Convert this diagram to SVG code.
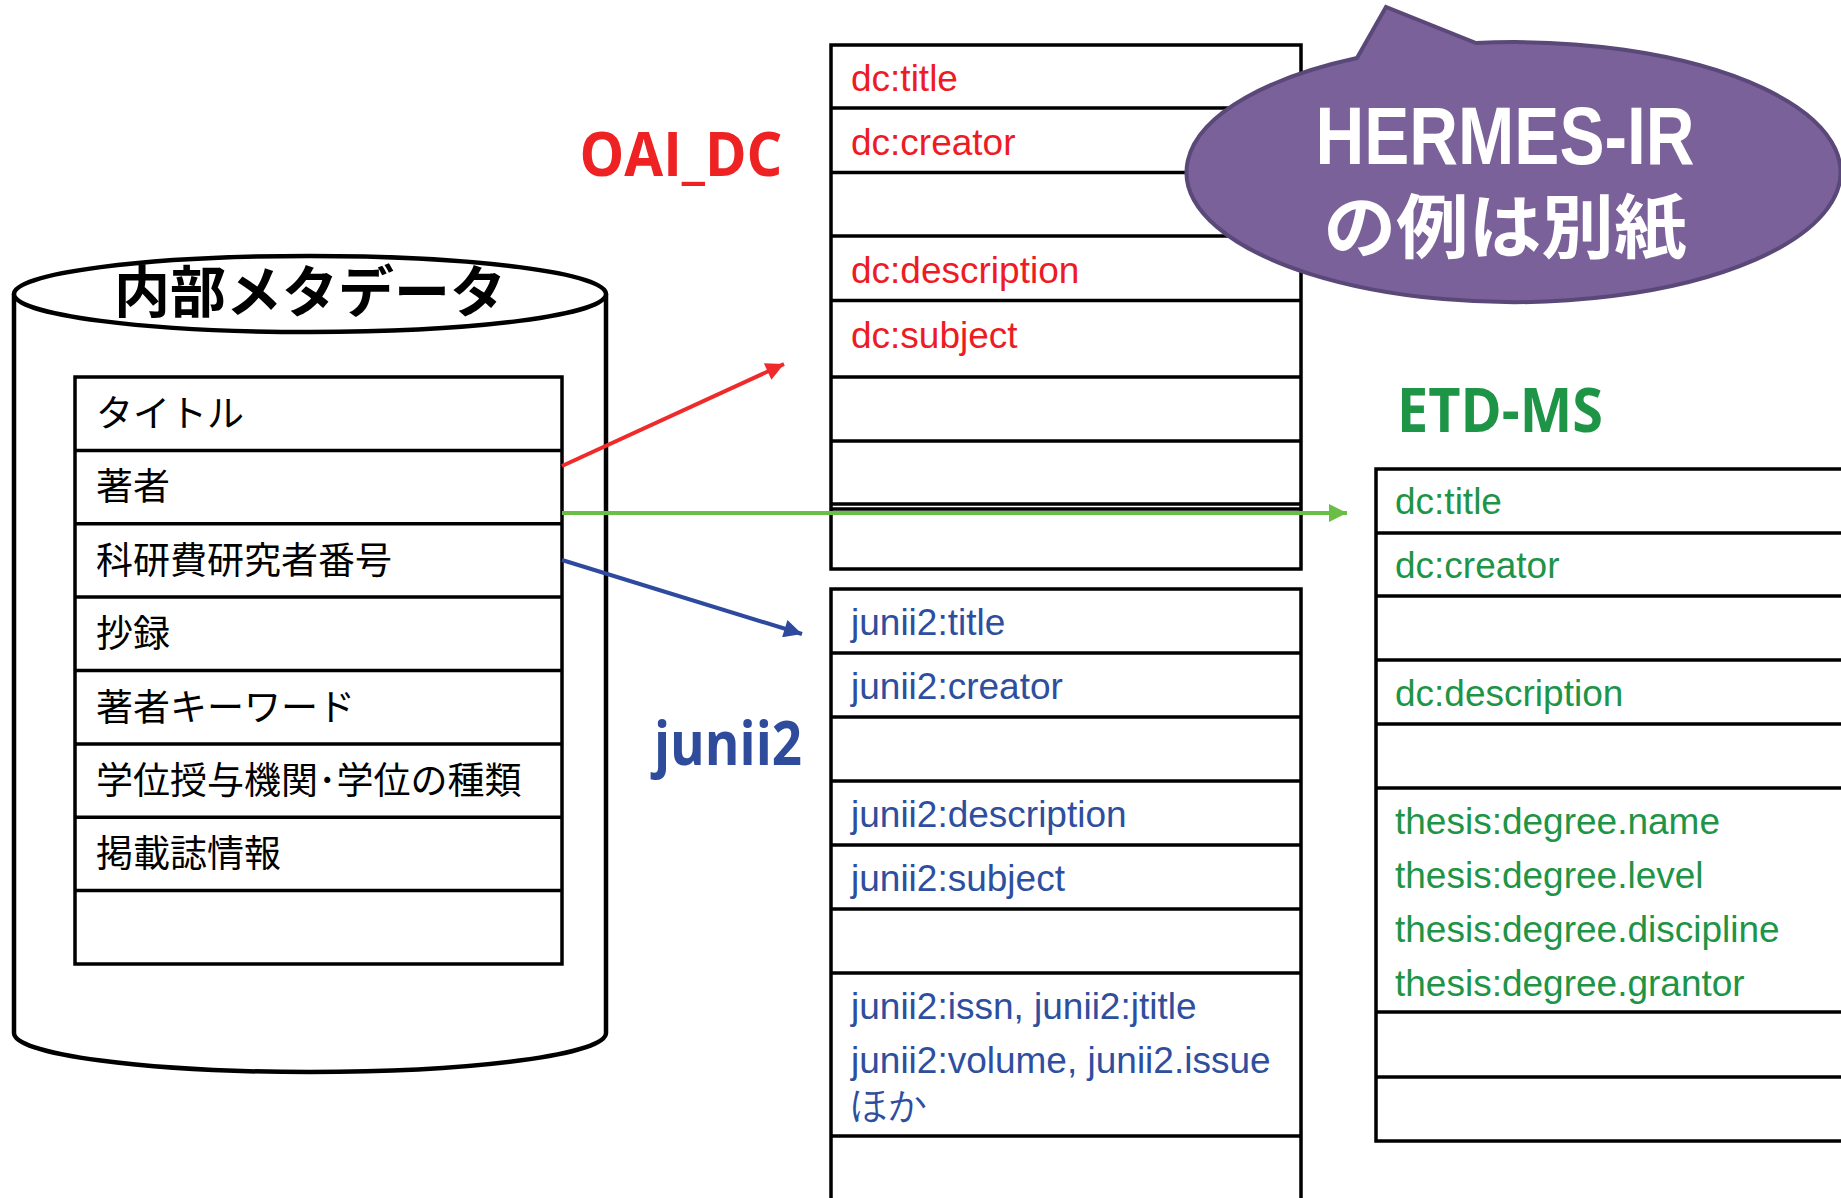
<svg xmlns="http://www.w3.org/2000/svg" width="1841" height="1198" viewBox="0 0 1841 1198">
<style>
.tbl{fill:#fff;stroke:#000;stroke-width:3.5}
.ln{stroke:#000;stroke-width:3.5}
.jp{font-family:"Noto Sans CJK JP","Noto Sans CJK SC",sans-serif;font-size:37px;fill:#000}
.red{font-family:"Liberation Sans",Arial,sans-serif;font-size:37px;fill:#ED1C24}
.blue{font-family:"Liberation Sans",Arial,sans-serif;font-size:37px;fill:#2E4E9E}
.green{font-family:"Liberation Sans",Arial,sans-serif;font-size:37px;fill:#1E9447}
.lbl{font-family:"Open Sans","Noto Sans",sans-serif;font-weight:bold;font-size:60px}
</style>
<defs>
<marker id="ah-red" viewBox="0 0 10 10" refX="10" refY="5" markerWidth="5" markerHeight="4.5" orient="auto" markerUnits="strokeWidth"><path d="M0,0 L10,5 L0,10 Z" fill="#EE2A2A"/></marker>
<marker id="ah-green" viewBox="0 0 10 10" refX="10" refY="5" markerWidth="5" markerHeight="4.5" orient="auto" markerUnits="strokeWidth"><path d="M0,0 L10,5 L0,10 Z" fill="#6ABD45"/></marker>
<marker id="ah-blue" viewBox="0 0 10 10" refX="10" refY="5" markerWidth="5" markerHeight="4.5" orient="auto" markerUnits="strokeWidth"><path d="M0,0 L10,5 L0,10 Z" fill="#2E4A9E"/></marker>
</defs>
<rect width="1841" height="1198" fill="#fff"/>

<g id="internal-metadata">
<path d="M14,294 L14,1033 A296,39 0 0,0 606,1033 L606,294" fill="#fff" stroke="#000" stroke-width="4.5"/>
<ellipse cx="310" cy="294" rx="296" ry="38" fill="#fff" stroke="#000" stroke-width="4.5"/>
<text x="310" y="312" text-anchor="middle" font-family="Noto Sans CJK JP, Noto Sans CJK SC, sans-serif" font-weight="bold" font-size="56" fill="#000">内部メタデータ</text>
<rect class="tbl" x="75" y="377" width="487" height="587"/>
<line class="ln" x1="75" y1="450.4" x2="562" y2="450.4"/>
<line class="ln" x1="75" y1="523.8" x2="562" y2="523.8"/>
<line class="ln" x1="75" y1="597.1" x2="562" y2="597.1"/>
<line class="ln" x1="75" y1="670.5" x2="562" y2="670.5"/>
<line class="ln" x1="75" y1="743.9" x2="562" y2="743.9"/>
<line class="ln" x1="75" y1="817.3" x2="562" y2="817.3"/>
<line class="ln" x1="75" y1="890.6" x2="562" y2="890.6"/>
<text class="jp" x="96" y="427">タイトル</text>
<text class="jp" x="96" y="500">著者</text>
<text class="jp" x="96" y="574">科研費研究者番号</text>
<text class="jp" x="96" y="647">抄録</text>
<text class="jp" x="96" y="721">著者キーワード</text>
<text class="jp" x="96" y="794">学位授与機関･学位の種類</text>
<text class="jp" x="96" y="867">掲載誌情報</text>
</g>

<g id="oai-dc">
<text class="lbl" x="681" y="176" text-anchor="middle" fill="#EE2222" textLength="203" lengthAdjust="spacingAndGlyphs">OAI_DC</text>
<rect class="tbl" x="831" y="45" width="470" height="524"/>
<line class="ln" x1="831" y1="108" x2="1301" y2="108"/>
<line class="ln" x1="831" y1="172.5" x2="1301" y2="172.5"/>
<line class="ln" x1="831" y1="236" x2="1301" y2="236"/>
<line class="ln" x1="831" y1="300.5" x2="1301" y2="300.5"/>
<line class="ln" x1="831" y1="377" x2="1301" y2="377"/>
<line class="ln" x1="831" y1="441" x2="1301" y2="441"/>
<line class="ln" x1="831" y1="504" x2="1301" y2="504"/>
<line class="ln" x1="831" y1="509" x2="1301" y2="509"/>
<text class="red" x="851" y="91">dc:title</text>
<text class="red" x="851" y="155">dc:creator</text>
<text class="red" x="851" y="283">dc:description</text>
<text class="red" x="851" y="348">dc:subject</text>
</g>

<g id="junii2">
<text class="lbl" x="728" y="765" text-anchor="middle" fill="#2F4B9B" textLength="148" lengthAdjust="spacingAndGlyphs">junii2</text>
<rect class="tbl" x="831" y="589" width="470" height="640"/>
<line class="ln" x1="831" y1="653" x2="1301" y2="653"/>
<line class="ln" x1="831" y1="717" x2="1301" y2="717"/>
<line class="ln" x1="831" y1="781" x2="1301" y2="781"/>
<line class="ln" x1="831" y1="845" x2="1301" y2="845"/>
<line class="ln" x1="831" y1="909" x2="1301" y2="909"/>
<line class="ln" x1="831" y1="973" x2="1301" y2="973"/>
<line class="ln" x1="831" y1="1136" x2="1301" y2="1136"/>
<text class="blue" x="851" y="635">junii2:title</text>
<text class="blue" x="851" y="699">junii2:creator</text>
<text class="blue" x="851" y="827">junii2:description</text>
<text class="blue" x="851" y="891">junii2:subject</text>
<text class="blue" x="851" y="1019">junii2:issn, junii2:jtitle</text>
<text class="blue" x="851" y="1073">junii2:volume, junii2.issue</text>
<text class="blue" x="851" y="1117" font-family="Noto Sans CJK JP, sans-serif" font-size="34">ほか</text>
</g>

<g id="etd-ms">
<text class="lbl" x="1500" y="432" text-anchor="middle" fill="#1E9447" textLength="206" lengthAdjust="spacingAndGlyphs">ETD-MS</text>
<rect class="tbl" x="1376" y="469" width="500" height="672"/>
<line class="ln" x1="1376" y1="533" x2="1876" y2="533"/>
<line class="ln" x1="1376" y1="596" x2="1876" y2="596"/>
<line class="ln" x1="1376" y1="660" x2="1876" y2="660"/>
<line class="ln" x1="1376" y1="724" x2="1876" y2="724"/>
<line class="ln" x1="1376" y1="788" x2="1876" y2="788"/>
<line class="ln" x1="1376" y1="1012" x2="1876" y2="1012"/>
<line class="ln" x1="1376" y1="1077" x2="1876" y2="1077"/>
<text class="green" x="1395" y="514">dc:title</text>
<text class="green" x="1395" y="578">dc:creator</text>
<text class="green" x="1395" y="706">dc:description</text>
<text class="green" x="1395" y="834">thesis:degree.name</text>
<text class="green" x="1395" y="888">thesis:degree.level</text>
<text class="green" x="1395" y="942">thesis:degree.discipline</text>
<text class="green" x="1395" y="996">thesis:degree.grantor</text>
</g>

<g id="connectors" fill="none" stroke-width="4">
<line x1="562" y1="466" x2="784" y2="364" stroke="#EE2A2A" marker-end="url(#ah-red)"/>
<line x1="562" y1="513" x2="1347" y2="513" stroke="#6ABD45" marker-end="url(#ah-green)"/>
<line x1="562" y1="560" x2="802" y2="634" stroke="#2E4A9E" marker-end="url(#ah-blue)"/>
</g>

<g id="callout">
<path d="M1357,58 L1386,7 L1476,43 A327,130 0 1,1 1357,58 Z" fill="#7A6199" stroke="#594878" stroke-width="4"/>
<text x="1505" y="164" text-anchor="middle" font-family="Liberation Sans, Arial, sans-serif" font-weight="bold" font-size="82" fill="#fff" textLength="379" lengthAdjust="spacingAndGlyphs">HERMES-IR</text>
<text x="1505" y="253" text-anchor="middle" font-family="Noto Sans CJK JP, sans-serif" font-weight="bold" font-size="70" fill="#fff" textLength="363" lengthAdjust="spacingAndGlyphs">の例は別紙</text>
</g>
</svg>
